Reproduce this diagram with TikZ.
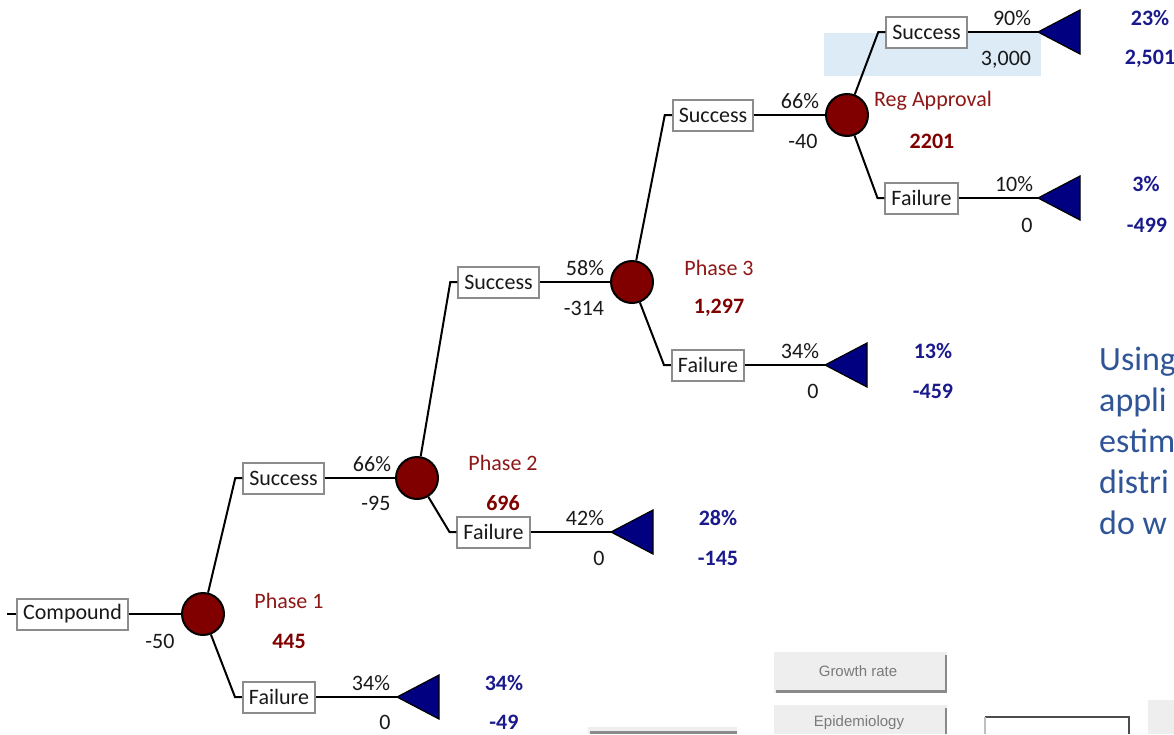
\documentclass[tikz,border=0pt]{standalone}
\usepackage{fontspec}
\setmainfont{Carlito}
\newfontfamily\btnfont{Liberation Sans}
\usetikzlibrary{positioning}
\definecolor{chancered}{HTML}{800000}
\definecolor{phasered}{HTML}{8E1717}
\definecolor{endblue}{HTML}{000080}
\definecolor{paynavy}{HTML}{1A1A8C}
\definecolor{boxgray}{HTML}{8C8C8C}
\definecolor{hilite}{HTML}{DDEBF7}
\definecolor{notetext}{HTML}{2F5597}
\definecolor{btnfill}{HTML}{EEEEEE}
\definecolor{btnedge}{HTML}{8A8A8A}
\definecolor{btntext}{HTML}{7A7A7A}

% nodo terminal: triangulo con la punta en (x,y)
\newcommand{\leaftri}[3]{%
  \coordinate (#1) at (#2,#3);
  \filldraw[fill=endblue, draw=black, line width=1.2pt] (#1) -- ++(42,-22) -- ++(0,44) -- cycle;}

\begin{document}
\begin{tikzpicture}[x=1pt,y=-1pt,
  every node/.style={font=\fontsize{22}{26}\selectfont, text=black!90},
  branch/.style={draw=boxgray, line width=2pt, fill=white, minimum height=31pt, inner xsep=6pt, inner ysep=0pt},
  chance/.style={circle, draw=black, line width=2pt, fill=chancered, minimum size=42pt, inner sep=0pt},
  phase/.style={text=phasered},
  phaseval/.style={text=chancered, font=\fontsize{22}{26}\selectfont\bfseries},
  endval/.style={text=paynavy, font=\fontsize{22}{26}\selectfont\bfseries},
  link/.style={line width=2pt},
  button/.style={fill=btnfill, draw=none},
  btnlabel/.style={font=\btnfont\fontsize{15}{18}\selectfont, text=btntext},
]
\useasboundingbox (0,0) rectangle (1174,734);
\clip (0,0) rectangle (1174,734);
\fill[white] (0,0) rectangle (1174,734);

% Resaltado
\fill[hilite] (824,33) rectangle (1041,76);

% Nodos de azar
\node[chance] (c1) at (203,614) {};
\node[chance] (c2) at (417,478) {};
\node[chance] (c3) at (632,282) {};
\node[chance] (c4) at (847,115) {};

% Ramas
\coordinate (in) at (7,614);
\node[branch] (cmp) at (72.5,614) {Compound};
\node[branch] (s1) at (283.5,478) {Success};
\node[branch] (f1) at (279,697) {Failure};
\node[branch] (s2) at (498.5,282) {Success};
\node[branch] (f2) at (493.5,532) {Failure};
\node[branch] (s3) at (713,115) {Success};
\node[branch] (f3) at (708,365) {Failure};
\node[branch] (s4) at (926.5,32) {Success};
\node[branch] (f4) at (921.5,198) {Failure};

% Terminales
\leaftri{t1}{397}{697}
\leaftri{t2}{611}{532}
\leaftri{t3}{825}{365}
\leaftri{t4}{1038}{32}
\leaftri{t5}{1038}{198}

% Conexiones
\draw[link] (in) -- (cmp.west);
\draw[link] (cmp.east) -- (c1);
\draw[link] (c1) -- ([xshift=-7pt]s1.west) -- (s1.west);
\draw[link] (c1) -- ([xshift=-7pt]f1.west) -- (f1.west);
\draw[link] (s1.east) -- (c2);
\draw[link] (f1.east) -- (t1);
\draw[link] (c2) -- ([xshift=-7pt]s2.west) -- (s2.west);
\draw[link] (c2) -- ([xshift=-7pt]f2.west) -- (f2.west);
\draw[link] (s2.east) -- (c3);
\draw[link] (f2.east) -- (t2);
\draw[link] (c3) -- ([xshift=-7pt]s3.west) -- (s3.west);
\draw[link] (c3) -- ([xshift=-7pt]f3.west) -- (f3.west);
\draw[link] (s3.east) -- (c4);
\draw[link] (f3.east) -- (t3);
\draw[link] (c4) -- ([xshift=-7pt]s4.west) -- (s4.west);
\draw[link] (c4) -- ([xshift=-7pt]f4.west) -- (f4.west);
\draw[link] (s4.east) -- (t4);
\draw[link] (f4.east) -- (t5);

% Fase 1
\node (v1) at (160,641) {-50};
\node[phase] (p1) at (289,601) {Phase 1};
\node[phaseval] (e1) at (289,641) {445};
% Fase 2
\node (q2) at (372,464) {66\%};
\node (v2) at (376,503) {-95};
\node[phase] (p2) at (503,463) {Phase 2};
\node[phaseval] (e2) at (503,503) {696};
% Fase 3
\node (q3) at (585,268) {58\%};
\node (v3) at (584,308) {-314};
\node[phase] (p3) at (719,268) {Phase 3};
\node[phaseval] (e3) at (719,308) {1,297};
% Aprobacion
\node (q4) at (800,101) {66\%};
\node (v4) at (803,141) {-40};
\node[phase] (p4) at (933,101) {Reg Approval};
\node[phaseval] (e4) at (932,141) {2201};

% Valores terminales
\node (qt1) at (371,683) {34\%};
\node (vt1) at (385,722) {0};
\node[endval] (pt1) at (504,683) {34\%};
\node[endval] (rt1) at (504,722) {-49};
\node (qt2) at (585,518) {42\%};
\node (vt2) at (599,558) {0};
\node[endval] (pt2) at (718,518) {28\%};
\node[endval] (rt2) at (718,558) {-145};
\node (qt3) at (800,351) {34\%};
\node (vt3) at (813,391) {0};
\node[endval] (pt3) at (933,351) {13\%};
\node[endval] (rt3) at (933,391) {-459};
\node (qt4) at (1012,18) {90\%};
\node (vt4) at (1006,60) {3,000};
\node[endval] (pt4) at (1150,18) {23\%};
\node[endval] (rt4) at (1150,59) {2,501};
\node (qt5) at (1014,184) {10\%};
\node (vt5) at (1027,225) {0};
\node[endval] (pt5) at (1146,184) {3\%};
\node[endval] (rt5) at (1147,225) {-499};

% Texto lateral
\node[anchor=north west, inner sep=0pt, align=left, text=notetext,
  font=\fontsize{34}{41}\selectfont] (note) at (1099,347)
  {Using\\appli\\estim\\distri\\do w};

% Botones
\fill[button] (774,652) rectangle (947,693);
\draw[btnedge, line width=3pt] (776,691) -- (947,691);
\draw[btnedge, line width=2pt] (946,655) -- (946,693);
\node[btnlabel] (b1) at (858,671) {Growth rate};
\fill[button] (774,705) rectangle (947,734);
\draw[btnedge, line width=2pt] (946,708) -- (946,734);
\node[btnlabel] (b2) at (859,723) {Epidemiology};
\fill[btnfill] (588,727) rectangle (737,734);
\draw[btnedge, line width=3pt] (590,732) -- (737,732);
\draw[black!70, line width=2pt] (985,717) -- (1129,717) -- (1129,734);
\draw[black!25, line width=2pt] (985,717) -- (985,734);
\fill[btnfill] (1148,700) rectangle (1174,734);
\end{tikzpicture}
\end{document}
